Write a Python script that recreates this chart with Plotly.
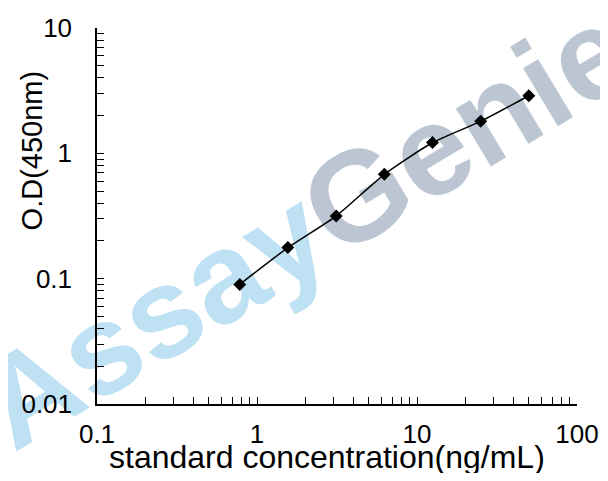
import plotly.graph_objects as go

# standard curve values
conc = [0.78, 1.56, 3.125, 6.25, 12.5, 25, 50]
od = [0.09, 0.177, 0.316, 0.68, 1.22, 1.80, 2.88]

x_title = "standard concentration(ng/mL)"
y_title = "O.D(450nm)"
mark_blue = "Assay"
mark_gray = "Genie"

fig = go.Figure()
fig.add_trace(go.Scatter(
    x=conc, y=od, mode="lines+markers",
    line=dict(color="black", width=1.5, shape="spline", smoothing=0.5),
    marker=dict(symbol="diamond", size=10, color="black"),
    showlegend=False,
))

# watermark sits under the data
fig.add_shape(
    type="rect", xref="paper", yref="paper",
    x0=0.32, x1=0.52, y0=0.40, y1=0.60,
    line=dict(width=0), fillcolor="rgba(0,0,0,0)", layer="below",
    label=dict(
        text="<b><span style='color:#bee1f4'>" + mark_blue + "</span>"
             "<span style='color:#bbc6d2'>" + mark_gray + "</span></b>",
        font=dict(family="Liberation Sans", size=128),
        textangle=-31, textposition="middle center",
    ),
)

axis_font = dict(family="Liberation Sans", size=26, color="black")
fig.update_xaxes(
    type="log", range=[-1, 2], dtick=1, automargin=False,
    showline=True, linecolor="black", linewidth=1.5, mirror=False,
    showgrid=False, zeroline=False,
    ticks="inside", ticklen=7, tickcolor="black",
    minor=dict(ticks="inside", ticklen=7, tickcolor="black", showgrid=False),
    tickfont=axis_font, ticklabelstandoff=6,
)
fig.update_yaxes(
    type="log", range=[-2, 1], dtick=1, automargin=False,
    showline=True, linecolor="black", linewidth=1.5, mirror=False,
    showgrid=False, zeroline=False,
    ticks="inside", ticklen=7, tickcolor="black",
    minor=dict(ticks="inside", ticklen=7, tickcolor="black", showgrid=False),
    tickfont=axis_font, ticklabelstandoff=18,
)

fig.add_annotation(text=x_title, xref="paper", yref="paper",
                   x=0.48, y=-0.14, xanchor="center", yanchor="middle",
                   showarrow=False,
                   font=dict(family="Liberation Sans", size=32, color="black"))
fig.add_annotation(text=y_title, xref="paper", yref="paper",
                   x=-0.135, y=0.675, xanchor="center", yanchor="middle",
                   textangle=-90, showarrow=False,
                   font=dict(family="Liberation Sans", size=29, color="black"))

fig.update_layout(
    width=592, height=465,
    margin=dict(l=89, r=23, t=20, b=69),
    paper_bgcolor="white", plot_bgcolor="rgba(0,0,0,0)",
)

fig.write_html("out.html")
